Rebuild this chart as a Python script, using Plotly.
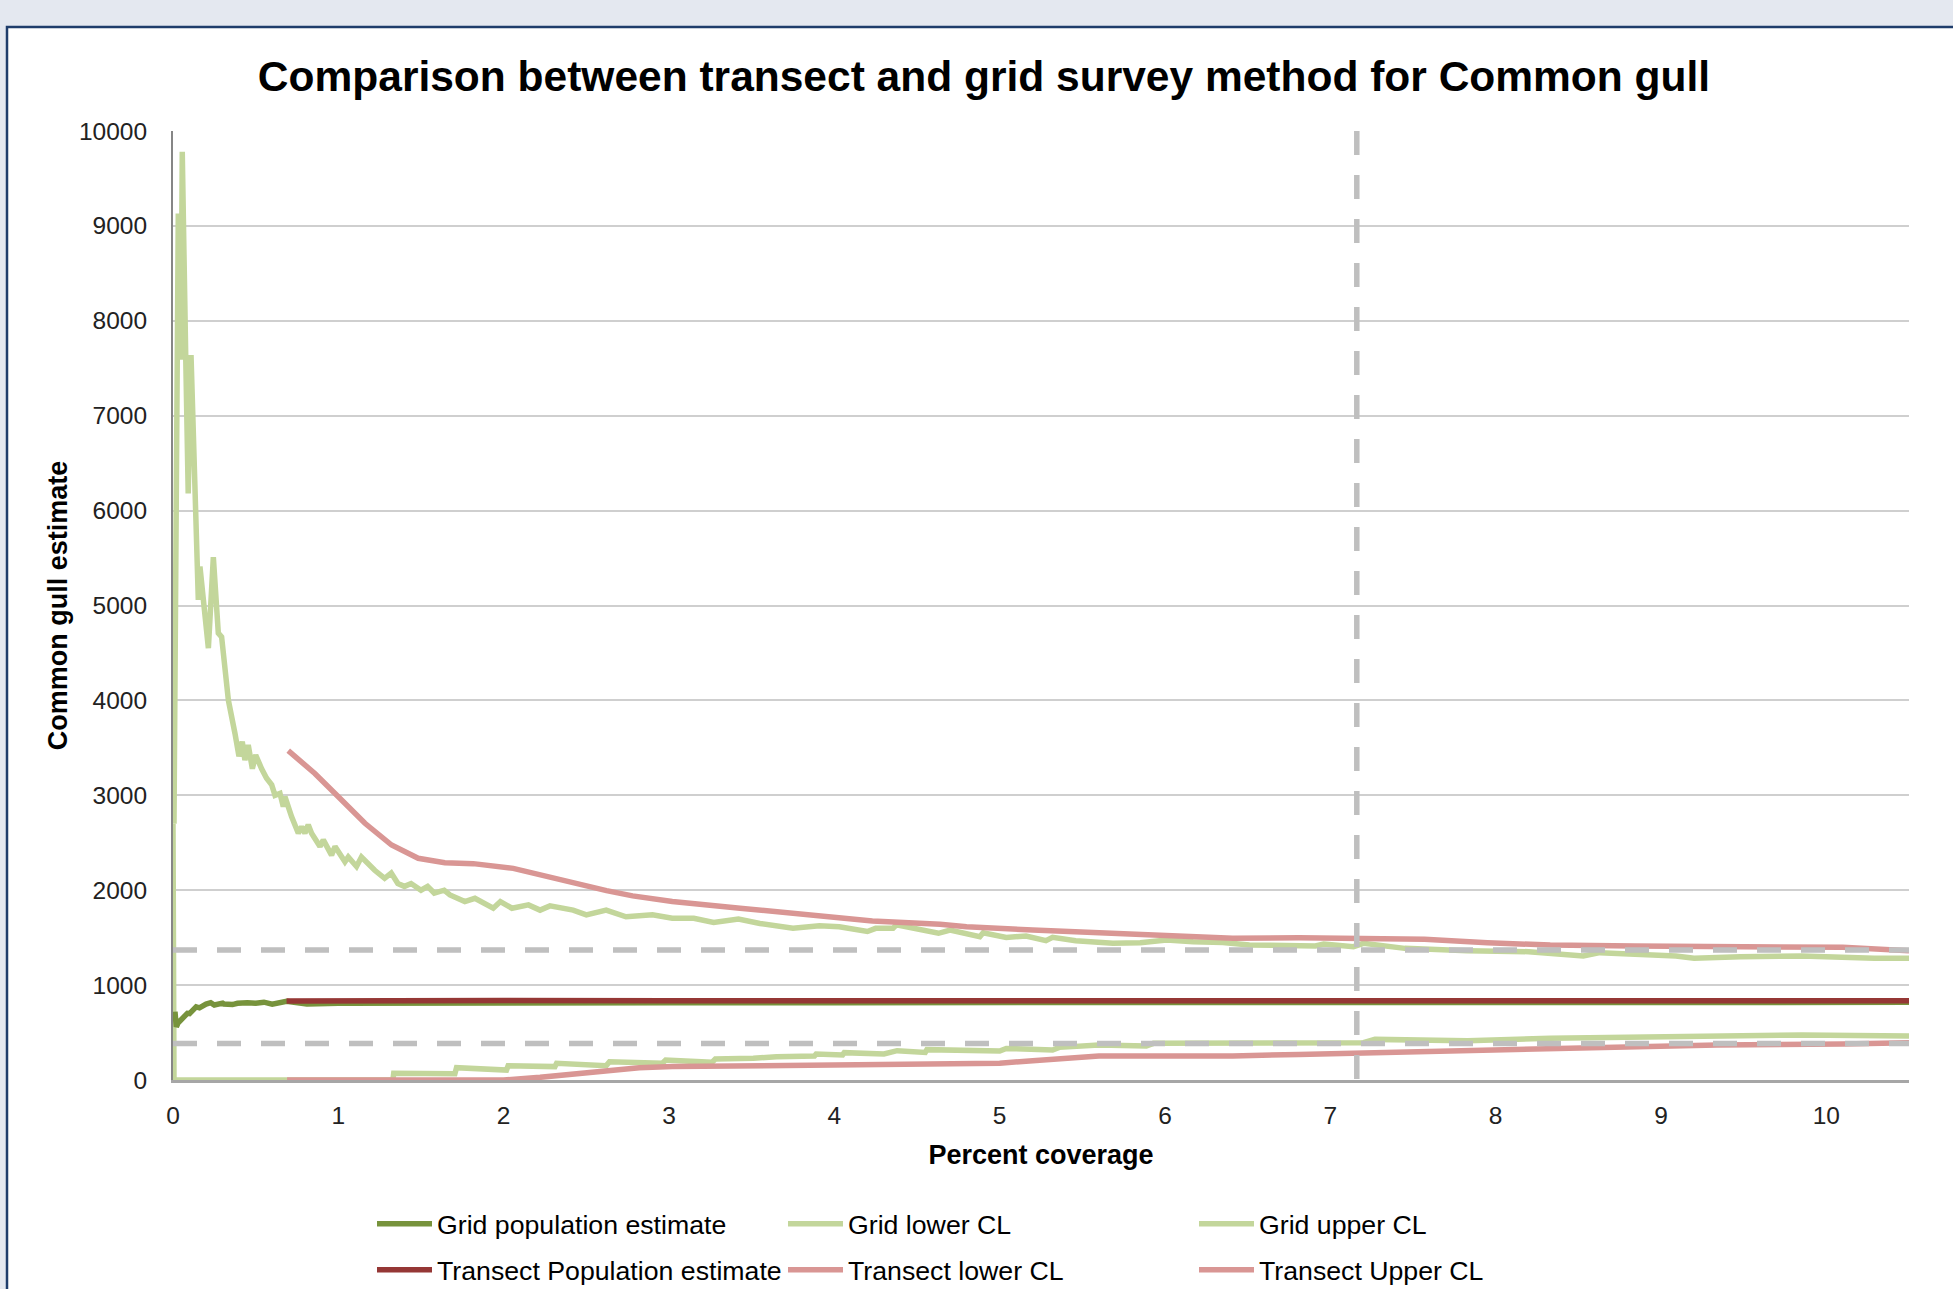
import plotly.graph_objects as go

# ---------------- data ----------------
grid_est_x = [0.012, 0.02, 0.03, 0.047, 0.087, 0.10, 0.127, 0.14, 0.16, 0.187, 0.2, 0.228, 0.25, 0.3, 0.308,
              0.36, 0.39, 0.45, 0.5, 0.55, 0.6, 0.687, 0.81, 1.0, 1.5, 2.0, 3.0, 4.0, 5.0, 6.0, 7.0, 8.0, 9.0, 10.5]
grid_est_y = [720, 560, 600, 632, 703, 700, 755, 770, 760, 790, 800, 815, 790, 810, 800,
              795, 808, 815, 810, 820, 800, 830, 800, 808, 812, 810, 815, 815, 815, 818, 815, 818, 818, 818]

grid_low_x = [0.0, 0.006, 1.33, 1.335, 1.705, 1.715, 2.017, 2.027, 2.31, 2.32, 2.62, 2.64, 2.96, 2.98,
              3.26, 3.28, 3.51, 3.65, 3.88, 3.89, 4.05, 4.06, 4.30, 4.38, 4.55, 4.56, 5.0, 5.04, 5.32,
              5.36, 5.6, 5.887, 5.93, 6.41, 7.0, 7.2, 7.27, 7.83, 8.33, 8.96, 9.34, 9.85, 10.5]
grid_low_y = [2700, 0, 0, 70, 65, 130, 105, 151, 141, 176, 151, 193, 176, 211,
              186, 221, 228, 246, 253, 274, 264, 288, 274, 309, 290, 320, 305, 333, 316,
              344, 369, 358, 386, 386, 386, 393, 428, 414, 439, 449, 463, 474, 463]

grid_up_x = [0.006, 0.025, 0.032, 0.048, 0.056, 0.077, 0.092, 0.109, 0.153, 0.163, 0.177, 0.19, 0.214,
             0.244, 0.274, 0.294, 0.31, 0.335, 0.375, 0.399, 0.419, 0.435, 0.455, 0.48, 0.5, 0.516,
             0.536, 0.566, 0.597, 0.617, 0.647, 0.667, 0.677, 0.717, 0.758, 0.778, 0.798, 0.818, 0.838,
             0.889, 0.909, 0.959, 0.98, 1.04, 1.06, 1.11, 1.14, 1.22, 1.28, 1.32, 1.36, 1.40, 1.44,
             1.50, 1.54, 1.58, 1.614, 1.64, 1.675, 1.765, 1.826, 1.937, 1.98, 2.05, 2.15, 2.22, 2.28,
             2.42, 2.50, 2.62, 2.74, 2.90, 3.02, 3.15, 3.27, 3.42, 3.55, 3.75, 3.91, 4.03, 4.20, 4.25,
             4.355, 4.375, 4.63, 4.70, 4.88, 4.90, 5.04, 5.16, 5.28, 5.32, 5.46, 5.685, 5.85, 6.01,
             6.17, 6.35, 6.51, 6.7, 6.91, 6.96, 7.14, 7.2, 7.45, 7.83, 8.2, 8.53, 8.63, 9.09, 9.2,
             9.48, 9.85, 10.29, 10.5]
grid_up_y = [2700, 7600, 9130, 7590, 9780, 7620, 6180, 7640, 5060, 5410, 5200, 4920, 4550,
             5510, 4710, 4670, 4440, 4000, 3650, 3410, 3565, 3370, 3530, 3280, 3425, 3350,
             3280, 3180, 3110, 3000, 3020, 2880, 2985, 2775, 2600, 2670, 2600, 2690, 2600,
             2460, 2530, 2370, 2460, 2300, 2350, 2250, 2350, 2210, 2125, 2180, 2070, 2040, 2070,
             2000, 2040, 1970, 1984, 2000, 1950, 1880, 1915, 1810, 1880, 1810, 1845, 1790, 1835,
             1790, 1740, 1790, 1720, 1740, 1705, 1705, 1660, 1695, 1650, 1600, 1625, 1615, 1565, 1598,
             1598, 1635, 1546, 1580, 1510, 1552, 1503, 1517, 1468, 1503, 1468, 1440, 1447, 1475,
             1458, 1450, 1423, 1420, 1412, 1433, 1405, 1440, 1387, 1363, 1352, 1306, 1342, 1306, 1282,
             1300, 1306, 1282, 1282]

tr_est_x = [0.687, 1.0, 1.37, 2.0, 3.0, 4.0, 5.0, 6.0, 7.0, 8.0, 9.0, 10.5]
tr_est_y = [832, 836, 842, 838, 835, 833, 832, 835, 835, 836, 836, 836]

tr_low_x = [0.69, 2.0, 2.22, 2.42, 2.62, 2.82, 3.02, 3.43, 3.83, 4.23, 4.64, 5.0, 5.2, 5.4, 5.6,
            6.0, 6.41, 6.81, 7.16, 7.42, 7.83, 8.58, 9.34, 10.1, 10.5]
tr_low_y = [0, 0, 28, 63, 98, 130, 141, 151, 158, 169, 176, 176, 204, 228, 253,
            253, 253, 270, 285, 298, 316, 344, 369, 379, 393]

tr_up_x = [0.697, 0.858, 1.0, 1.161, 1.322, 1.483, 1.644, 1.816, 2.058, 2.22, 2.42, 2.622, 2.78,
           3.02, 3.43, 3.83, 4.23, 4.64, 4.80, 5.20, 5.605, 6.008, 6.41, 6.81, 7.16, 7.57, 7.95,
           8.33, 8.84, 9.34, 9.85, 10.1, 10.5]
tr_up_y = [3470, 3230, 2985, 2705, 2476, 2336, 2290, 2280, 2230, 2160, 2072, 1995, 1940,
           1880, 1810, 1740, 1676, 1640, 1615, 1580, 1552, 1510, 1493, 1498, 1493, 1482, 1447,
           1422, 1412, 1412, 1412, 1398, 1363]

ref_levels = [1370, 385]      # horizontal dashed reference lines
ref_coverage = 7.16           # vertical dashed reference line

x_ticks = [0, 1, 2, 3, 4, 5, 6, 7, 8, 9, 10]
y_ticks = [0, 1000, 2000, 3000, 4000, 5000, 6000, 7000, 8000, 9000, 10000]

# ---------------- figure ----------------
W, H = 1953, 1289
L, R, T, B = 173, 44, 131, 209
PW, PH = W - L - R, H - T - B

DARK_GREEN = "#77933C"
LIGHT_GREEN = "#C3D69B"
DARK_RED = "#953735"
PINK = "#D99694"
FONT = "Liberation Sans, Arial, sans-serif"

fig = go.Figure()
series = [
    ("Grid population estimate", grid_est_x, grid_est_y, DARK_GREEN, "legend"),
    ("Grid lower CL", grid_low_x, grid_low_y, LIGHT_GREEN, "legend"),
    ("Grid upper CL", grid_up_x, grid_up_y, LIGHT_GREEN, "legend"),
    ("Transect Population estimate", tr_est_x, tr_est_y, DARK_RED, "legend2"),
    ("Transect lower CL", tr_low_x, tr_low_y, PINK, "legend2"),
    ("Transect Upper CL", tr_up_x, tr_up_y, PINK, "legend2"),
]
# draw light lines first so estimates sit on top, keep legend order via legendrank
order = [1, 2, 4, 5, 0, 3]
for i in order:
    name, xs, ys, col, lg = series[i]
    fig.add_trace(go.Scatter(x=xs, y=ys, mode="lines", name=name,
                             line=dict(color=col, width=5.5),
                             legend=lg, legendrank=i + 1, hoverinfo="skip"))


def px2paper_x(px):
    return (px - L) / PW


def px2paper_y(py):
    return (H - B - py) / PH


shapes = [
    dict(type="rect", xref="paper", yref="paper", layer="below",
         x0=px2paper_x(7), x1=1.3, y0=-0.6, y1=px2paper_y(27),
         fillcolor="white", line=dict(color="#1F3D6B", width=2.5)),
]
for lv in ref_levels:
    shapes.append(dict(type="line", xref="x", yref="y", layer="above",
                       x0=0, x1=10.5, y0=lv, y1=lv,
                       line=dict(color="#BFBFBF", width=5.5, dash="24px,20px")))
shapes.append(dict(type="line", xref="x", yref="y", layer="above",
                   x0=ref_coverage, x1=ref_coverage, y0=10000, y1=0,
                   line=dict(color="#BFBFBF", width=5.5, dash="24px,20px")))

fig.update_layout(
    width=W, height=H,
    margin=dict(l=L, r=R, t=T, b=B, autoexpand=False),
    paper_bgcolor="#E4E8F0",
    plot_bgcolor="rgba(0,0,0,0)",
    shapes=shapes,
    title=dict(text="Comparison between transect and grid survey method for Common gull",
               x=984 / W, xanchor="center", xref="container",
               y=1 - 76 / H, yanchor="middle", yref="container",
               font=dict(family=FONT, size=42.5, color="black", weight="bold")),
    xaxis=dict(range=[0, 10.5], tickvals=x_ticks, ticktext=[str(v) for v in x_ticks],
               showgrid=False, zeroline=False, showline=True, linecolor="#A6A6A6", linewidth=2.5,
               ticks="", ticklabelstandoff=12,
               tickfont=dict(family=FONT, size=24.5, color="#222222"),
               title=dict(text="Percent coverage", standoff=17,
                          font=dict(family=FONT, size=27, color="black", weight="bold"))),
    yaxis=dict(range=[0, 10000], tickvals=y_ticks, ticktext=[str(v) for v in y_ticks],
               showgrid=True, gridcolor="#CFCFCF", gridwidth=1.5,
               zeroline=False, showline=True, linecolor="#868686", linewidth=2,
               ticks="", ticklabelstandoff=19,
               tickfont=dict(family=FONT, size=24.5, color="#222222"),
               title=dict(text="Common gull estimate", standoff=4,
                          font=dict(family=FONT, size=27, color="black", weight="bold"))),
    legend=dict(orientation="h", x=px2paper_x(372), xanchor="left",
                y=px2paper_y(1224), yanchor="middle",
                bgcolor="rgba(0,0,0,0)", itemwidth=55, entrywidth=341, entrywidthmode="pixels",
                font=dict(family=FONT, size=26.7, color="black"), itemclick=False),
    legend2=dict(orientation="h", x=px2paper_x(372), xanchor="left",
                 y=px2paper_y(1270), yanchor="middle",
                 bgcolor="rgba(0,0,0,0)", itemwidth=55, entrywidth=341, entrywidthmode="pixels",
                 font=dict(family=FONT, size=26.7, color="black"), itemclick=False),
)

fig.write_html("out.html", config={"displayModeBar": False},
               post_script="document.body.style.margin='0';document.body.style.background='#E4E8F0';")
